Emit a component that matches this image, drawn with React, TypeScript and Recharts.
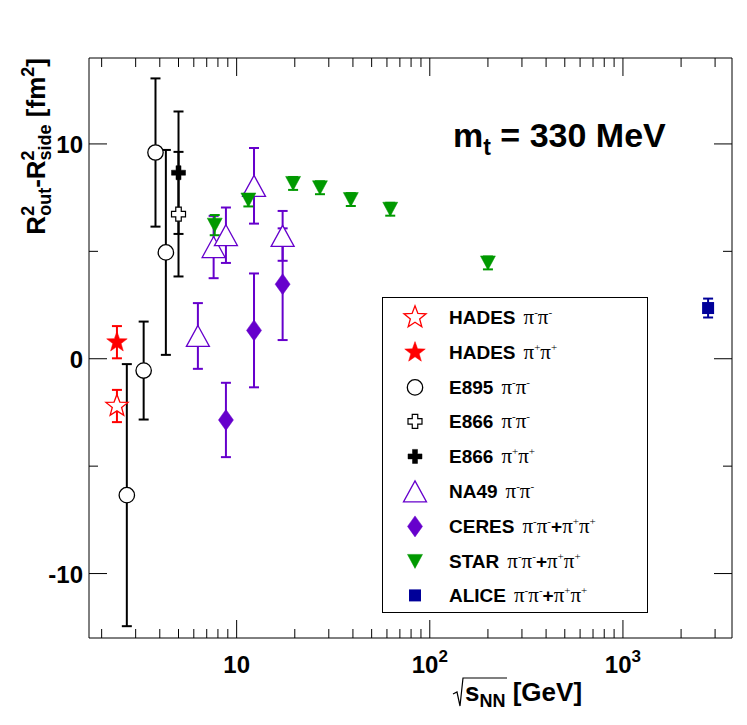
import React from 'react';
import { ScatterChart, Scatter, XAxis, YAxis, ErrorBar, Legend } from 'recharts';

// ---------- data ----------
const hadesNegX = [2.4];
const hadesNegY = [-2.2];
const hadesNegErr = [0.75];

const hadesPosX = [2.4];
const hadesPosY = [0.77];
const hadesPosErr = [0.75];

const e895X = [2.7, 3.3, 3.8, 4.3];
const e895Y = [-6.35, -0.55, 9.6, 4.95];
const e895Err = [6.1, 2.28, 3.45, 4.77];

const e866NegX = [5.0];
const e866NegY = [6.73];
const e866NegErr = [2.9];

const e866PosX = [5.0];
const e866PosY = [8.66];
const e866PosErr = [2.85];

const na49X = [6.3, 7.6, 8.8, 12.3, 17.3];
const na49Y = [1.06, 5.2, 5.75, 8.05, 5.72];
const na49Err = [1.53, 1.45, 1.29, 1.76, 1.16];

const ceresX = [8.8, 12.3, 17.3];
const ceresY = [-2.85, 1.32, 3.47];
const ceresErr = [1.73, 2.65, 2.6];

const starX = [7.7, 11.5, 19.6, 27, 39, 62.4, 200];
const starY = [6.22, 7.39, 8.16, 7.96, 7.41, 6.96, 4.46];
const starErr = [0.47, 0.3, 0.3, 0.3, 0.3, 0.3, 0.3];

const aliceX = [2760];
const aliceY = [2.36];
const aliceErr = [0.44];

const xTicks = [2, 3, 4, 5, 6, 7, 8, 9, 10, 20, 30, 40, 50, 60, 70, 80, 90, 100, 200, 300, 400, 500, 600, 700, 800, 900, 1000, 2000, 3000];
const xMajor = [10, 100, 1000];
const xLabelBase = ['10', '10', '10'];
const xLabelExp = ['', '2', '3'];

const yTicks = [-10, -5, 0, 5, 10];
const yMajor = [-10, 0, 10];
const yLabels = ['-10', '0', '10'];

const legendNames = ['HADES', 'HADES', 'E895', 'E866', 'E866', 'NA49', 'CERES', 'STAR', 'ALICE'];
const legendCharges = [['--'], ['++'], ['--'], ['--'], ['++'], ['--'], ['--', '++'], ['--', '++'], ['--', '++']];

// ---------- styles ----------
const RED = '#ff0000';
const PURPLE = '#6600cc';
const GREEN = '#009900';
const NAVY = '#000099';
const SANS = '"Liberation Sans", Arial, Helvetica, sans-serif';
const SERIF = '"Liberation Serif", "Times New Roman", serif';

const W = 739;
const H = 717;
// plot area: left 81, top 50, width 643, height 580 (axes take 1px each)
const M = { top: 49, right: 14, bottom: 86, left: 80 };

const zip = (xs: number[], ys: number[], es: number[]) =>
  xs.map((x, i) => ({ x, y: ys[i], err: es[i] }));

// ---------- marker shapes ----------
const starPts = (cx: number, cy: number, R: number, r: number) => {
  const p: string[] = [];
  for (let i = 0; i < 10; i++) {
    const a = -Math.PI / 2 + (i * Math.PI) / 5;
    const rad = i % 2 === 0 ? R : r;
    p.push(`${cx + rad * Math.cos(a)},${cy + rad * Math.sin(a)}`);
  }
  return p.join(' ');
};
const crossPts = (cx: number, cy: number, s: number, t: number) => {
  const a = s / 2;
  const b = t / 2;
  return [
    [-b, -a], [b, -a], [b, -b], [a, -b], [a, b], [b, b], [b, a], [-b, a], [-b, b], [-a, b], [-a, -b], [-b, -b],
  ].map(([dx, dy]) => `${cx + dx},${cy + dy}`).join(' ');
};

const OpenStar = ({ cx, cy }: any) => (
  <polygon points={starPts(cx, cy, 11.6, 4.9)} fill="#fff" stroke={RED} strokeWidth={1.3} />
);
const FullStar = ({ cx, cy }: any) => (
  <polygon points={starPts(cx, cy, 10.8, 4.4)} fill={RED} stroke={RED} strokeWidth={0.5} />
);
const OpenCircle = ({ cx, cy }: any) => (
  <circle cx={cx} cy={cy} r={7.7} fill="#fff" stroke="#000" strokeWidth={1.3} />
);
const OpenCross = ({ cx, cy }: any) => (
  <polygon points={crossPts(cx, cy, 14, 5.5)} fill="#fff" stroke="#000" strokeWidth={1.2} />
);
const FullCross = ({ cx, cy }: any) => (
  <polygon points={crossPts(cx, cy, 14, 5)} fill="#000" stroke="#000" strokeWidth={0.5} />
);
const OpenTriUp = ({ cx, cy }: any) => (
  <polygon
    points={`${cx},${cy - 10.5} ${cx + 11.5},${cy + 10.5} ${cx - 11.5},${cy + 10.5}`}
    fill="#fff"
    stroke={PURPLE}
    strokeWidth={1.3}
  />
);
const Diamond = ({ cx, cy }: any) => (
  <polygon
    points={`${cx},${cy - 10.5} ${cx + 7.5},${cy} ${cx},${cy + 10.5} ${cx - 7.5},${cy}`}
    fill={PURPLE}
    stroke={PURPLE}
    strokeWidth={0.5}
  />
);
const TriDown = ({ cx, cy }: any) => (
  <polygon
    points={`${cx - 7.5},${cy - 7} ${cx + 7.5},${cy - 7} ${cx},${cy + 7}`}
    fill={GREEN}
    stroke={GREEN}
    strokeWidth={0.5}
  />
);
const Square = ({ cx, cy }: any) => (
  <rect x={cx - 6} y={cy - 6} width={12} height={12} fill={NAVY} />
);

const legendShapes = [OpenStar, FullStar, OpenCircle, OpenCross, FullCross, OpenTriUp, Diamond, TriDown, Square];

// ---------- ticks ----------
const BottomTick = (props: any) => {
  const { x, y, payload } = props;
  const v = payload.value;
  const mi = xMajor.indexOf(v);
  const len = mi >= 0 ? 18 : 9;
  return (
    <g>
      <line x1={x} x2={x} y1={y} y2={y - len} stroke="#000" strokeWidth={1} />
      {mi >= 0 && (
        <text x={x} y={y + 35} textAnchor="middle" fontFamily={SANS} fontWeight="bold" fontSize={24} fill="#000">
          <tspan>{xLabelBase[mi]}</tspan>
          {xLabelExp[mi] && (
            <tspan dy={-11} fontSize={17}>
              {xLabelExp[mi]}
            </tspan>
          )}
        </text>
      )}
    </g>
  );
};
const TopTick = (props: any) => {
  const { x, y, payload } = props;
  const len = xMajor.includes(payload.value) ? 18 : 9;
  return <line x1={x} x2={x} y1={y} y2={y + len} stroke="#000" strokeWidth={1} />;
};
const LeftTick = (props: any) => {
  const { x, y, payload } = props;
  const mi = yMajor.indexOf(payload.value);
  const len = mi >= 0 ? 18 : 9;
  return (
    <g>
      <line x1={x} x2={x + len} y1={y} y2={y} stroke="#000" strokeWidth={1} />
      {mi >= 0 && (
        <text x={x - 6} y={y + 9} textAnchor="end" fontFamily={SANS} fontWeight="bold" fontSize={24} fill="#000">
          {yLabels[mi]}
        </text>
      )}
    </g>
  );
};
const RightTick = (props: any) => {
  const { x, y, payload } = props;
  const len = yMajor.includes(payload.value) ? 18 : 9;
  return <line x1={x} x2={x - len} y1={y} y2={y} stroke="#000" strokeWidth={1} />;
};

// ---------- legend ----------
const Formula = ({ charges }: { charges: string[] }) => (
  <span style={{ fontFamily: SERIF, fontSize: 21, fontWeight: 'normal', marginLeft: 8 }}>
    {charges.map((c, i) => (
      <React.Fragment key={i}>
        {i > 0 && <span style={{ fontFamily: SANS, fontWeight: 'bold', fontSize: 19 }}>+</span>}
        π<span style={{ fontSize: 11, position: 'relative', top: -8 }}>{c[0] === '-' ? '-' : '+'}</span>
        π<span style={{ fontSize: 11, position: 'relative', top: -8 }}>{c[1] === '-' ? '-' : '+'}</span>
      </React.Fragment>
    ))}
  </span>
);

const LegendBox = () => (
  <div
    style={{
      width: 266,
      height: 316,
      boxSizing: 'border-box',
      border: '1px solid #000',
      background: '#fff',
      paddingTop: 2,
      position: 'relative',
    }}
  >
    {legendNames.map((name, i) => {
      const Shape = legendShapes[i];
      return (
        <div key={i} style={{ position: 'relative', height: 34.8 }}>
          <svg width={40} height={34.8} style={{ position: 'absolute', left: 12, top: 0, overflow: 'visible' }}>
            <Shape cx={20} cy={17.4} />
          </svg>
          <div
            style={{
              position: 'absolute',
              left: 66,
              top: 0,
              height: 34.8,
              lineHeight: '34.8px',
              fontFamily: SANS,
              fontWeight: 'bold',
              fontSize: 19,
              color: '#000',
              whiteSpace: 'nowrap',
            }}
          >
            {name}
            <Formula charges={legendCharges[i]} />
          </div>
        </div>
      );
    })}
  </div>
);

// ---------- series ----------
const series = [
  { key: 'hn', data: zip(hadesNegX, hadesNegY, hadesNegErr), color: RED, shape: OpenStar },
  { key: 'hp', data: zip(hadesPosX, hadesPosY, hadesPosErr), color: RED, shape: FullStar },
  { key: 'e895', data: zip(e895X, e895Y, e895Err), color: '#000', shape: OpenCircle },
  { key: 'e866n', data: zip(e866NegX, e866NegY, e866NegErr), color: '#000', shape: OpenCross },
  { key: 'e866p', data: zip(e866PosX, e866PosY, e866PosErr), color: '#000', shape: FullCross },
  { key: 'na49', data: zip(na49X, na49Y, na49Err), color: PURPLE, shape: OpenTriUp },
  { key: 'ceres', data: zip(ceresX, ceresY, ceresErr), color: PURPLE, shape: Diamond },
  { key: 'star', data: zip(starX, starY, starErr), color: GREEN, shape: TriDown },
  { key: 'alice', data: zip(aliceX, aliceY, aliceErr), color: NAVY, shape: Square },
];

export default function App() {
  const xDomain: [number, number] = [1.72, 3670];
  const yDomain: [number, number] = [-13, 14];
  return (
    <div style={{ position: 'relative', width: W, height: H, fontFamily: SANS, background: '#fff' }}>
      <ScatterChart width={W} height={H} margin={M}>
        <XAxis
          xAxisId="b"
          dataKey="x"
          type="number"
          scale="log"
          domain={xDomain}
          allowDataOverflow
          ticks={xTicks}
          interval={0}
          height={1}
          tickSize={0}
          tickMargin={0}
          tickLine={false}
          axisLine={{ stroke: '#000', strokeWidth: 1 }}
          tick={BottomTick}
        />
        <XAxis
          xAxisId="t"
          orientation="top"
          dataKey="x"
          type="number"
          scale="log"
          domain={xDomain}
          allowDataOverflow
          ticks={xTicks}
          interval={0}
          height={1}
          tickSize={0}
          tickMargin={0}
          tickLine={false}
          axisLine={{ stroke: '#000', strokeWidth: 1 }}
          tick={TopTick}
        />
        <YAxis
          yAxisId="l"
          dataKey="y"
          type="number"
          domain={yDomain}
          allowDataOverflow
          ticks={yTicks}
          interval={0}
          width={1}
          tickSize={0}
          tickMargin={0}
          tickLine={false}
          axisLine={{ stroke: '#000', strokeWidth: 1 }}
          tick={LeftTick}
        />
        <YAxis
          yAxisId="r"
          orientation="right"
          dataKey="y"
          type="number"
          domain={yDomain}
          allowDataOverflow
          ticks={yTicks}
          interval={0}
          width={1}
          tickSize={0}
          tickMargin={0}
          tickLine={false}
          axisLine={{ stroke: '#000', strokeWidth: 1 }}
          tick={RightTick}
        />
        {series.map((s) => (
          <Scatter
            key={s.key}
            xAxisId="b"
            yAxisId="l"
            data={s.data}
            shape={s.shape}
            fill={s.color}
            isAnimationActive={false}
          >
            <ErrorBar dataKey="err" direction="y" width={5} stroke={s.color} strokeWidth={2} />
          </Scatter>
        ))}
        <Legend
          layout="vertical"
          align="center"
          verticalAlign="middle"
          content={LegendBox}
          wrapperStyle={{ position: 'absolute', left: 374, top: 289, width: 266, height: 316 }}
        />
      </ScatterChart>
      <svg
        width={W}
        height={H}
        style={{ position: 'absolute', left: 0, top: 0, pointerEvents: 'none' }}
      >
        {/* y-axis title */}
        <text
          transform="translate(37,50) rotate(-90)"
          textAnchor="end"
          fontFamily={SANS}
          fontWeight="bold"
          fontSize={26}
          fill="#000"
        >
          <tspan>R</tspan>
          <tspan dy={-11} fontSize={18}>2</tspan>
          <tspan dx={-10} dy={17} fontSize={18}>out</tspan>
          <tspan dy={-6}>-R</tspan>
          <tspan dy={-11} fontSize={18}>2</tspan>
          <tspan dx={-10} dy={17} fontSize={18}>side</tspan>
          <tspan dy={-6}> [fm</tspan>
          <tspan dy={-11} fontSize={18}>2</tspan>
          <tspan dy={11}>]</tspan>
        </text>
        {/* x-axis title */}
        <path d="M445,686 L449,684 L452,698 L455,670 L499,670" fill="none" stroke="#000" strokeWidth={1.2} />
        <text x={457} y={693} fontFamily={SANS} fontWeight="bold" fontSize={26} fill="#000">
          <tspan>s</tspan>
          <tspan dy={6} fontSize={18}>NN</tspan>
          <tspan dy={-6}> [GeV]</tspan>
        </text>
        {/* annotation */}
        <text x={445} y={139} fontFamily={SANS} fontWeight="bold" fontSize={34} fill="#000">
          <tspan>m</tspan>
          <tspan dy={8} fontSize={23}>t</tspan>
          <tspan dy={-8}> = 330 MeV</tspan>
        </text>
      </svg>
    </div>
  );
}
